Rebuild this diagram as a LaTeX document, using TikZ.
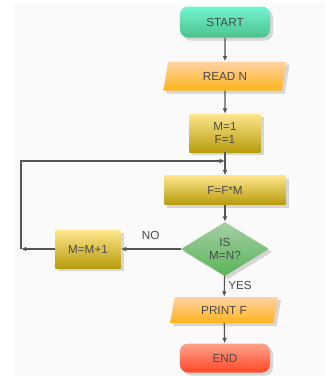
\documentclass[tikz,border=0pt]{standalone}
\usepackage{fontspec}
\setmainfont{Liberation Sans}
\usetikzlibrary{shapes.geometric,arrows.meta,shadows}

\definecolor{inkgray}{HTML}{4A4A4A}
\definecolor{linegray}{HTML}{555555}

\begin{document}
\begin{tikzpicture}[x=0.3mm,y=-0.3mm,
    font=\fontsize{10}{11}\selectfont,text=inkgray,
    every node/.style={align=center,inner sep=0pt},
    shade/.style={drop shadow={shadow xshift=0.9mm,shadow yshift=-0.9mm,fill=black!25,opacity=.6}},
    terminal/.style={shade,rounded corners=2.4mm,minimum width=27mm},
    startbox/.style={terminal,top color=teal!35!green!40!cyan!55,bottom color=teal!70!green!70,minimum height=9.3mm},
    endbox/.style={terminal,top color=orange!40!red!45,bottom color=red!70!orange!85,minimum height=8.7mm},
    iobox/.style={shade,trapezium,trapezium left angle=60,trapezium right angle=120,
      trapezium stretches body,top color=orange!35,bottom color=orange!65!yellow!90},
    procbox/.style={shade,rectangle,top color=yellow!55!orange!45,bottom color=yellow!70!orange!70!black!95},
    testbox/.style={shade,diamond,minimum width=26.4mm,minimum height=16.2mm,
      top color=green!45!black!35!white,bottom color=green!55!black!65},
    line/.style={draw=linegray,line width=0.35mm,-{Latex[length=1.6mm,width=1.4mm]}}]

  \fill[gray!4] (13,4) rectangle (325,376);
  \useasboundingbox (0,0) rectangle (325,376);

  \draw
  (225,22) node[startbox] (start){START}
  (225,76) node[iobox,minimum width=36.9mm,minimum height=8.7mm] (read){READ N}
  (225,133) node[procbox,minimum width=21.3mm,minimum height=11.4mm] (init){M=1\\F=1}
  (225,190) node[procbox,minimum width=36.3mm,minimum height=8.7mm] (mult){F=F*M}
  (225,249) node[testbox] (test){IS\\M=N?}
  (88,249) node[procbox,minimum width=19.5mm,minimum height=11.4mm] (inc){M=M+1}
  (224,310) node[iobox,minimum width=32.4mm,minimum height=7.8mm] (print){PRINT F}
  (225,358) node[endbox] (stop){END};

  \coordinate (back) at (21,249);
  \coordinate (join) at (225,161);

  \begin{scope}[line]
    \draw (start) -- (read);
    \draw (read) -- (init);
    \draw (init) -- (mult);
    \draw (mult) -- (test);
    \draw (test) -- node[above=2.5mm] {NO} (inc);
    \draw (inc) -- (back);
    \draw (back) |- (join);
    \draw (test) -- node[right=1mm,pos=0.45] {YES} (print);
    \draw (print) -- (stop);
  \end{scope}

\end{tikzpicture}
\end{document}
